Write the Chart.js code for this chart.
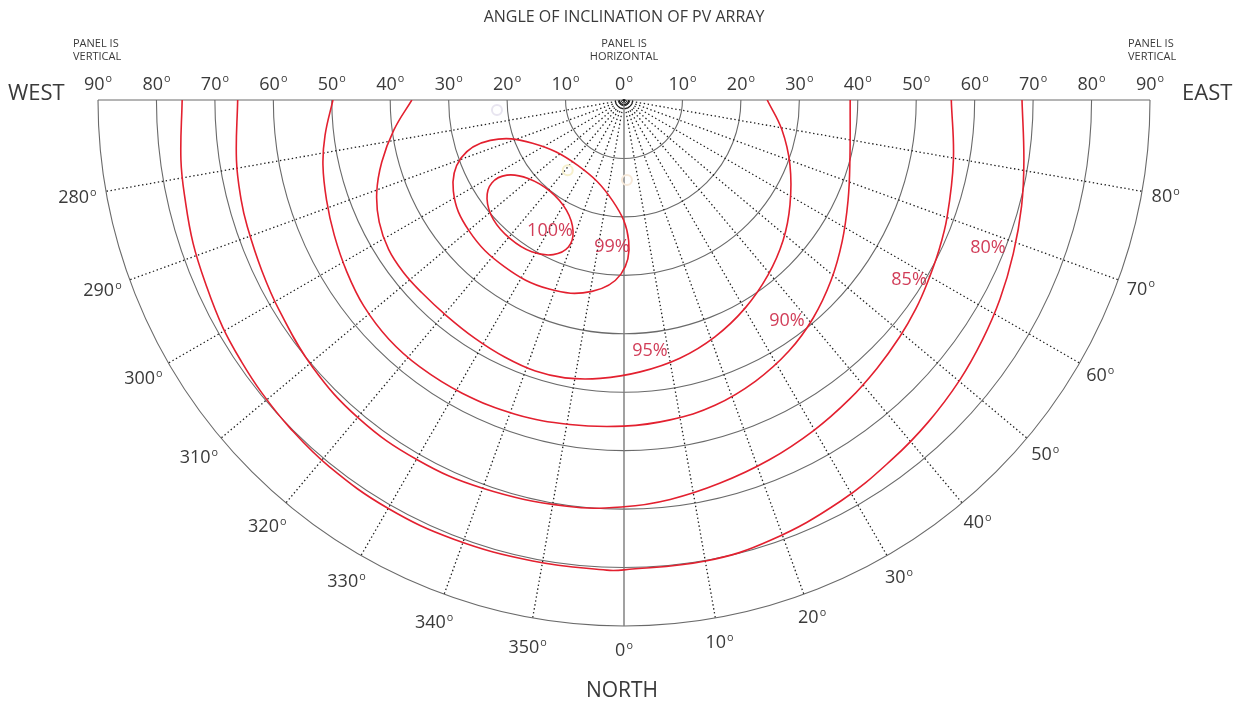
<!DOCTYPE html>
<html>
<head>
<meta charset="utf-8">
<title>PV array orientation</title>
<script src="https://cdn.jsdelivr.net/npm/chart.js@4.4.1/dist/chart.umd.min.js"></script>
<style>
  html, body { margin: 0; padding: 0; background: #fff; }
  #wrap { width: 1240px; height: 701px; }
</style>
</head>
<body>
<div id="wrap"><canvas id="pv" width="1240" height="701"></canvas></div>
<script>
// grid: tilt rings and azimuth spokes (degrees)
const ringTilts = [10, 20, 30, 40, 50, 60, 70, 80, 90];
const centreRings = [0.5, 1, 1.5];
const inclinationTicks = [0, 10, 20, 30, 40, 50, 60, 70, 80, 90];
const azimuthTicks = [280, 290, 300, 310, 320, 330, 340, 350, 0, 10, 20, 30, 40, 50, 60, 70, 80];

// contour lines, read as [azimuth, tilt] pairs
const contour100 = [[339.3, 26.9], [335.4, 29.1], [328.7, 30.4], [320.6, 30.7], [312.5, 30.3], [305.8, 28.9],
  [302.1, 26.7], [302.7, 23.8], [309.3, 21.2], [320.9, 20.1], [332.5, 21.3], [338.8, 24.1]];
const contour99 = [[359.0, 29.8], [350.5, 33.2], [338.4, 34.8], [324.3, 35.1], [310.2, 34.7], [298.1, 33.1],
  [289.6, 29.6], [286.8, 23.9], [295.3, 17.3], [324.7, 13.7], [353.7, 17.4], [1.9, 24.1]];
const contour95 = [[270, 36.3], [277.4, 39.7], [284.4, 42.8], [290.6, 45.2], [296.5, 46.8], [302.4, 47.7],
  [307.9, 47.9], [313.5, 47.8], [320.5, 47.8], [328.0, 48.1], [335.2, 48.5], [341.9, 48.8], [348.0, 48.6],
  [355.1, 47.8], [3.4, 46.6], [12.2, 45.2], [21.0, 43.4], [30.2, 41.2], [39.4, 38.8], [48.6, 36.3],
  [57.7, 33.6], [68.6, 30.5], [79.3, 27.5], [90, 24.5]];
const contour90 = [[270, 49.8], [276.7, 51.5], [282.2, 52.7], [288.6, 53.7], [295.0, 54.7], [301.8, 55.8],
  [308.4, 56.8], [315.5, 57.4], [322.6, 57.5], [331.1, 57.3], [340.9, 56.9], [350.5, 56.3], [0, 55.8],
  [8.2, 55.3], [16.6, 54.5], [25.1, 53.1], [33.3, 51.4], [40.9, 49.4], [48.9, 47.0], [57.0, 44.5],
  [65.9, 42.0], [75.1, 40.0], [90, 38.7]];
const contour85 = [[270, 66.1], [278.8, 67.1], [284.6, 67.7], [288.6, 68.0], [295.2, 68.5], [301.4, 69.1],
  [310.6, 70.2], [320.2, 70.9], [330.1, 71.0], [340.0, 70.7], [352.0, 70.2], [0, 69.6], [6.6, 68.8],
  [14.0, 67.6], [22.0, 66.4], [29.9, 65.2], [37.0, 64.1], [43.3, 63.1], [49.3, 62.2], [54.4, 61.4],
  [58.9, 60.6], [64.5, 59.7], [70.1, 58.8], [79.6, 57.3], [90, 56.0]];
const contour80 = [[270, 75.6], [277.7, 76.5], [282.8, 77.0], [288.4, 77.7], [293.9, 78.2], [299.5, 78.9],
  [304.4, 79.3], [309.0, 79.7], [314.5, 80.1], [321.2, 80.5], [329.9, 80.7], [338.9, 80.6], [348.8, 80.4],
  [357.9, 80.5], [0, 80.4], [10.2, 80.1], [18.4, 79.4], [28.4, 78.0], [36.8, 76.7], [43.4, 75.8],
  [50.2, 74.8], [56.2, 73.8], [62.1, 72.8], [68.5, 71.6], [75.1, 70.4], [81.4, 69.2], [90, 68.1]];

const contourNames = ['100%', '99%', '95%', '90%', '85%', '80%'];
const contourLabelAz = [330.6, 355.3, 5.9, 36.4, 57.7, 67.9];
const contourLabelTilt = [25.8, 25.2, 43.2, 47.0, 57.7, 67.2];

// faint sun position markers
const sunAz = [274.5, 321.3, 2.1];
const sunTilt = [21.8, 15.4, 13.7];
const sunColours = ['#e8e5f0', '#f6f0cc', '#f7e9da'];

const RED = '#e3202f';
const INK = '#3a3a3a';
const FONT = '"Open Sans", "Noto Sans", sans-serif';

function toXY(az, tilt) {
    const a = az * Math.PI / 180;
    return { x: tilt * Math.sin(a), y: -tilt * Math.cos(a) };
}

// closed loops get one point of overlap at each end so the spline
// stays smooth where it joins; the two overlap segments are hidden
function curveData(points, closed) {
    const n = points.length;
    const pts = closed ? [points[n - 1]].concat(points, [points[0], points[1]]) : points;
    return pts.map(p => toXY(p[0], p[1]));
}

// number followed by a small raised "o", as on the original sheet
function degText(ctx, num, x, baseY, size, align) {
    ctx.font = size + 'px ' + FONT;
    const w1 = ctx.measureText(num).width;
    const s2 = size * 0.6;
    ctx.font = s2 + 'px ' + FONT;
    const w2 = ctx.measureText('o').width;
    const total = w1 + 1 + w2;
    let x0 = x - total / 2;
    if (align === 'left') x0 = x;
    if (align === 'right') x0 = x - total;
    ctx.textAlign = 'left';
    ctx.textBaseline = 'alphabetic';
    ctx.font = size + 'px ' + FONT;
    ctx.fillText(num, x0, baseY);
    ctx.font = s2 + 'px ' + FONT;
    ctx.fillText('o', x0 + w1 + 1, baseY - size * 0.393);
}

const polarGrid = {
    id: 'polarGrid',
    beforeDatasetsDraw(chart) {
        const ctx = chart.ctx;
        const sx = chart.scales.x, sy = chart.scales.y;
        const cx = sx.getPixelForValue(0), cy = sy.getPixelForValue(0);
        const unit = sx.getPixelForValue(1) - cx;
        ctx.save();
        ctx.strokeStyle = '#6a6a6a';
        ctx.lineWidth = 1.1;
        ringTilts.forEach(t => {
            ctx.beginPath();
            ctx.arc(cx, cy, t * unit, 0, Math.PI);
            ctx.stroke();
        });
        ctx.strokeStyle = '#333';
        ctx.lineWidth = 1;
        centreRings.forEach(t => {
            ctx.beginPath();
            ctx.arc(cx, cy, t * unit, 0, Math.PI);
            ctx.stroke();
        });
        // horizon line across the top
        ctx.strokeStyle = '#6a6a6a';
        ctx.beginPath();
        ctx.moveTo(sx.getPixelForValue(-90), cy);
        ctx.lineTo(sx.getPixelForValue(90), cy);
        ctx.stroke();

        azimuthTicks.forEach(az => {
            const p = toXY(az, 90);
            ctx.beginPath();
            if (az === 0) {
                ctx.setLineDash([]);
                ctx.strokeStyle = '#7a7a7a';
                ctx.lineWidth = 1.4;
            } else {
                ctx.setLineDash([1.4, 2.6]);
                ctx.strokeStyle = '#1e1e1e';
                ctx.lineWidth = 1.3;
            }
            ctx.moveTo(cx, cy);
            ctx.lineTo(sx.getPixelForValue(p.x), sy.getPixelForValue(p.y));
            ctx.stroke();
        });
        ctx.restore();
    }
};

const polarLabels = {
    id: 'polarLabels',
    afterDatasetsDraw(chart) {
        const ctx = chart.ctx;
        const sx = chart.scales.x, sy = chart.scales.y;
        const cx = sx.getPixelForValue(0), cy = sy.getPixelForValue(0);
        const unit = sx.getPixelForValue(1) - cx;
        ctx.save();
        ctx.fillStyle = INK;

        ctx.textAlign = 'center';
        ctx.textBaseline = 'alphabetic';
        ctx.font = '16px ' + FONT;
        ctx.fillText('ANGLE OF INCLINATION OF PV ARRAY', cx, 22);

        ctx.font = '11px ' + FONT;
        ctx.fillText('PANEL IS', cx, 47);
        ctx.fillText('HORIZONTAL', cx, 60);
        ctx.textAlign = 'left';
        ctx.fillText('PANEL IS', 73, 47);
        ctx.fillText('VERTICAL', 73, 60);
        ctx.fillText('PANEL IS', 1128, 47);
        ctx.fillText('VERTICAL', 1128, 60);

        ctx.font = '22px ' + FONT;
        ctx.fillText('WEST', 8, 100);
        ctx.fillText('EAST', 1182, 100);
        ctx.textAlign = 'center';
        ctx.font = '21px ' + FONT;
        ctx.fillText('NORTH', cx - 2, 697);

        // inclination scale along the top, both sides
        inclinationTicks.forEach(t => {
            degText(ctx, String(t), sx.getPixelForValue(t), 89.5, 18, 'center');
            if (t > 0) degText(ctx, String(t), sx.getPixelForValue(-t), 89.5, 18, 'center');
        });

        // azimuth labels around the rim
        azimuthTicks.forEach(az => {
            const a = az * Math.PI / 180;
            const txt = String(az);
            const r = 90 * unit + 24 + (txt.length === 3 ? 5 : 0);
            const lx = cx + r * Math.sin(a);
            const ly = cy + r * Math.cos(a);
            degText(ctx, txt, lx, ly + 18 * 0.357, 18, 'center');
        });

        // contour percentages
        ctx.fillStyle = 'rgba(204, 40, 70, 0.9)';
        ctx.font = '18px ' + FONT;
        ctx.textAlign = 'center';
        ctx.textBaseline = 'middle';
        contourNames.forEach((name, i) => {
            const p = toXY(contourLabelAz[i], contourLabelTilt[i]);
            ctx.fillText(name, sx.getPixelForValue(p.x), sy.getPixelForValue(p.y));
        });
        ctx.restore();
    }
};

const contours = [contour100, contour99, contour95, contour90, contour85, contour80];
const closedContours = [true, true, false, false, false, false];

const datasets = contours.map((c, i) => {
    const data = curveData(c, closedContours[i]);
    const last = data.length - 1;
    return {
        label: contourNames[i],
        data: data,
        showLine: true,
        borderColor: RED,
        borderWidth: 1.6,
        pointRadius: 0,
        tension: 0.4,
        fill: false,
        segment: closedContours[i] ? {
            borderColor: s => (s.p0DataIndex === 0 || s.p1DataIndex === last) ? 'rgba(0,0,0,0)' : undefined
        } : undefined
    };
});

datasets.push({
    label: 'sun',
    data: sunAz.map((az, i) => toXY(az, sunTilt[i])),
    showLine: false,
    pointRadius: 5,
    pointBorderWidth: 2,
    pointBorderColor: sunColours,
    pointBackgroundColor: 'rgba(255,255,255,0)'
});

const chart = new Chart(document.getElementById('pv'), {
    type: 'scatter',
    data: { datasets: datasets },
    options: {
        responsive: false,
        animation: false,
        layout: { padding: { left: 98, right: 90, top: 100, bottom: 75 } },
        scales: {
            x: { type: 'linear', min: -90, max: 90, display: false },
            y: { type: 'linear', min: -90, max: 0, display: false }
        },
        plugins: {
            legend: { display: false },
            tooltip: { enabled: false }
        }
    },
    plugins: [polarGrid, polarLabels]
});
</script>
</body>
</html>
